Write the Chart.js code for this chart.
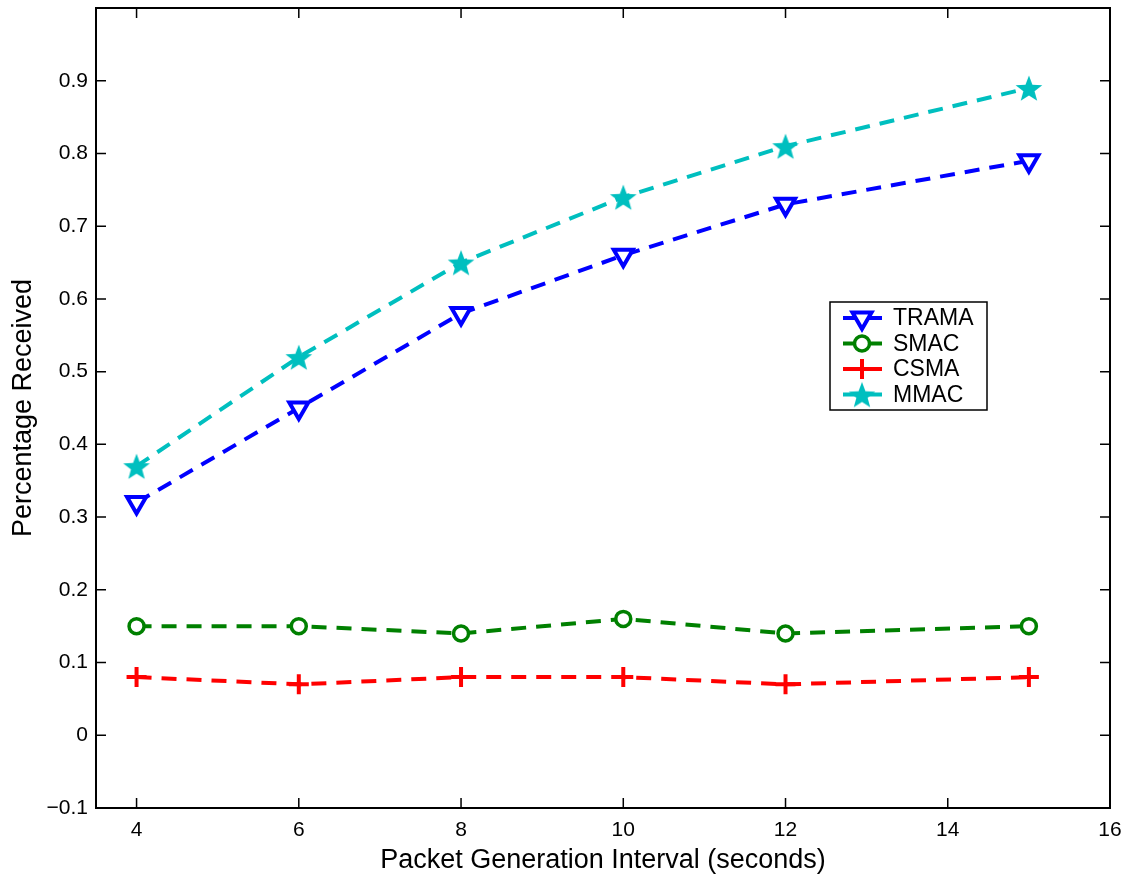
<!DOCTYPE html>
<html>
<head>
<meta charset="utf-8">
<script src="https://cdn.jsdelivr.net/npm/chart.js@4.4.1/dist/chart.umd.min.js"></script>
<style>
  html, body { margin: 0; padding: 0; background: #fff; overflow: hidden; }
  #wrap { width: 1126px; height: 874px; overflow: hidden; position: relative; }
  #c { position: absolute; left: 0; top: -7px; }
</style>
</head>
<body>
<div id="wrap"><canvas id="c" width="1126" height="881"></canvas></div>
<script>
// Datos
var intervals = [4, 6, 8, 10, 12, 15];
var trama = [0.32, 0.45, 0.58, 0.66, 0.73, 0.79];
var smac  = [0.15, 0.15, 0.14, 0.16, 0.14, 0.15];
var csma  = [0.08, 0.07, 0.08, 0.08, 0.07, 0.08];
var mmac  = [0.37, 0.52, 0.65, 0.74, 0.81, 0.89];
var xTicks = [4, 6, 8, 10, 12, 14, 16];
var yTicks = [-0.1, 0, 0.1, 0.2, 0.3, 0.4, 0.5, 0.6, 0.7, 0.8, 0.9, 1.0];

var FONT = '"Liberation Sans", Arial, Helvetica, sans-serif';

// Estrella rellena para MMAC
function makeStar(color, r) {
    var size = Math.ceil(r * 2 + 4);
    var cv = document.createElement('canvas');
    cv.width = size; cv.height = size;
    var g = cv.getContext('2d');
    var cx = size / 2, cy = size / 2 + 1.5;
    g.beginPath();
    for (var i = 0; i < 10; i++) {
        var rad = i % 2 === 0 ? r : r * 0.42;
        var a = -Math.PI / 2 + i * Math.PI / 5;
        g.lineTo(cx + rad * Math.cos(a), cy + rad * Math.sin(a));
    }
    g.closePath();
    g.fillStyle = color;
    g.fill();
    return cv;
}
var starImg = makeStar('#00bfbf', 14);

function pts(ys) {
    return intervals.map(function (x, i) { return { x: x, y: ys[i] }; });
}

var datasets = [
    { label: 'TRAMA', data: pts(trama), borderColor: '#0000ff', pointStyle: 'triangle', pointRotation: 180,
      pointRadius: 11, pointBorderWidth: 4, pointBackgroundColor: '#fff' },
    { label: 'SMAC', data: pts(smac), borderColor: '#008000', pointStyle: 'circle',
      pointRadius: 7.5, pointBorderWidth: 3.5, pointBackgroundColor: '#fff' },
    { label: 'CSMA', data: pts(csma), borderColor: '#ff0000', pointStyle: 'cross',
      pointRadius: 10, pointBorderWidth: 4 },
    { label: 'MMAC', data: pts(mmac), borderColor: '#00bfbf', pointStyle: starImg,
      pointRadius: 14, pointBorderWidth: 0 }
];
datasets.forEach(function (d) {
    d.borderWidth = 4;
    d.borderDash = [15, 10];
    d.fill = false;
    d.tension = 0;
    d.pointBorderColor = d.borderColor;
    d.pointHoverRadius = d.pointRadius;
});

// Caja del eje y marcas hacia dentro (estilo MATLAB)
var boxPlugin = {
    id: 'box',
    afterDraw: function (chart) {
        var ctx = chart.ctx, a = chart.chartArea;
        var xs = chart.scales.x, ys = chart.scales.y;
        ctx.save();
        ctx.strokeStyle = '#000';
        ctx.lineWidth = 1.5;
        ctx.beginPath();
        xTicks.forEach(function (t) {
            var px = xs.getPixelForValue(t);
            ctx.moveTo(px, a.bottom); ctx.lineTo(px, a.bottom - 10);
            ctx.moveTo(px, a.top); ctx.lineTo(px, a.top + 10);
        });
        yTicks.forEach(function (t) {
            var py = ys.getPixelForValue(t);
            ctx.moveTo(a.left, py); ctx.lineTo(a.left + 10, py);
            ctx.moveTo(a.right, py); ctx.lineTo(a.right - 10, py);
        });
        ctx.stroke();
        ctx.lineWidth = 2;
        ctx.strokeRect(a.left, a.top, a.right - a.left, a.bottom - a.top);

        // Leyenda (7px de desplazamiento del lienzo)
        var lx = 830, ly = 309, lw = 157, lh = 108;
        ctx.fillStyle = '#fff';
        ctx.fillRect(lx, ly, lw, lh);
        ctx.lineWidth = 1.5;
        ctx.strokeRect(lx, ly, lw, lh);
        ctx.font = '23px ' + FONT;
        ctx.textBaseline = 'middle';
        chart.data.datasets.forEach(function (d, i) {
            var cy = ly + 16 + i * 25.5;
            ctx.strokeStyle = d.borderColor;
            ctx.lineWidth = 4;
            ctx.setLineDash([]);
            ctx.beginPath();
            ctx.moveTo(843, cy); ctx.lineTo(882, cy);
            ctx.stroke();
            ctx.fillStyle = d.pointBackgroundColor || d.borderColor;
            ctx.lineWidth = d.pointBorderWidth;
            Chart.helpers.drawPoint(ctx, {
                pointStyle: d.pointStyle, rotation: d.pointRotation || 0,
                radius: d.pointRadius, borderWidth: d.pointBorderWidth
            }, 862, cy);
            ctx.fillStyle = '#000';
            ctx.fillText(d.label, 893, cy + 1);
        });
        ctx.restore();
    }
};

new Chart(document.getElementById('c'), {
    type: 'line',
    data: { datasets: datasets },
    plugins: [boxPlugin],
    options: {
        responsive: false,
        animation: false,
        layout: { padding: { top: 2, right: 16, left: 0, bottom: 0 } },
        plugins: { legend: { display: false }, tooltip: { enabled: false } },
        scales: {
            x: {
                type: 'linear', min: 3.5, max: 16,
                afterBuildTicks: function (s) { s.ticks = xTicks.map(function (v) { return { value: v }; }); },
                afterFit: function (s) { s.height = 66; s.paddingLeft = 0; s.paddingRight = 0; },
                grid: { display: false, drawTicks: false },
                border: { display: false },
                ticks: { padding: 10, color: '#000', font: { family: FONT, size: 21 } },
                title: { display: true, text: 'Packet Generation Interval (seconds)', color: '#000',
                         padding: { top: 0, bottom: 0 }, font: { family: FONT, size: 27, lineHeight: 1 } }
            },
            y: {
                type: 'linear', min: -0.1, max: 1.0,
                afterBuildTicks: function (s) { s.ticks = yTicks.map(function (v) { return { value: v }; }); },
                afterFit: function (s) { s.width = 96; s.paddingTop = 0; s.paddingBottom = 0; },
                grid: { display: false, drawTicks: false },
                border: { display: false },
                ticks: {
                    padding: 8, color: '#000', font: { family: FONT, size: 21 },
                    callback: function (v) {
                        if (Math.abs(v - 1) < 1e-9) return '';
                        var s = (Math.round(v * 10) / 10).toString();
                        return s.replace('-', '\u2212');
                    }
                },
                title: { display: true, text: 'Percentage Received', color: '#000',
                         padding: { top: 10, bottom: 0 }, font: { family: FONT, size: 27, lineHeight: 1 } }
            }
        }
    }
});
</script>
</body>
</html>
